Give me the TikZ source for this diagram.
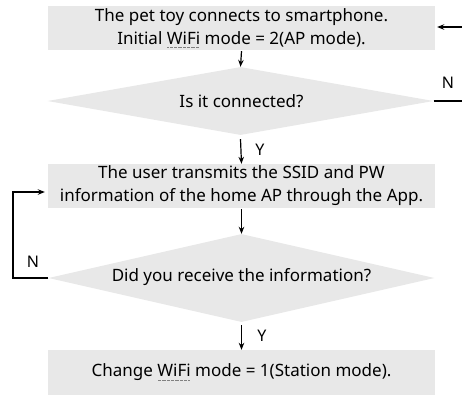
\documentclass[tikz,border=0pt]{standalone}
\usepackage{fontspec}
\setmainfont{Noto Sans}
\usepackage{xcolor}
\usetikzlibrary{shapes.geometric,arrows.meta}
\newcommand{\wfsq}[1]{\leavevmode\setbox0\hbox{#1}\rlap{\raisebox{-3.5pt}{\color{gray}\hbox to \wd0{\leaders\hbox to 1.3pt{\hss\rule{0.65pt}{0.65pt}\hss}\hfill}}}\box0\relax}
\definecolor{boxgray}{HTML}{E8E8E8}
\tikzset{
  procbox/.style={fill=boxgray,draw=none,minimum width=387pt,minimum height=44pt,align=center,inner sep=0pt,font=\fontsize{17}{23}\selectfont},
  decbox/.style={diamond,fill=boxgray,draw=none,aspect=5.6,minimum width=386pt,minimum height=68pt,inner sep=0pt},
  dtext/.style={font=\fontsize{17}{23}\selectfont,inner sep=0pt},
  conn/.style={line width=1.2pt,-{Stealth[length=7pt,width=5.5pt]}},
  lbl/.style={font=\fontsize{16}{18}\selectfont,inner sep=0pt}
}
\begin{document}
\begin{tikzpicture}[x=1pt,y=-1pt]
\useasboundingbox (0,0) rectangle (462,397);
\node[procbox] (b1) at (241.5,28) {The pet toy connects to smartphone.\\Initial \wfsq{WiFi} mode = 2(AP mode).};
\node[decbox] (d1) at (240.5,101) {};
\node[dtext] (t1) at (241.5,101) {Is it connected?};
\node[procbox] (b2) at (241.5,186) {The user transmits the SSID and PW\\information of the home AP through the App.};
\node[decbox,minimum height=88pt] (d2) at (241.5,278) {};
\node[dtext] (t2) at (241.5,277) {Did you receive the information?};
\node[procbox,minimum height=45pt] (b3) at (241.5,372.5) {Change \wfsq{WiFi} mode = 1(Station mode).};
\coordinate (r1) at (475,101);
\coordinate (r2) at (475,27);
\coordinate (l1) at (13,278);
\coordinate (l2) at (13,192);
\draw[conn] (b1.south) ++(0,1) -- (d1.north);
\draw[conn] (d1.south) ++(0,4) -- (b2.north);
\draw[conn] (b2.south) ++(0,1) -- (d2.north);
\draw[conn] (d2.south) ++(0,3) -- (b3.north);
\draw[conn] (d1.east) -- (r1) -- (r2) -- ([xshift=2pt]b1.east|-r2);
\draw[conn] (d2.west) -- (l1) -- (l2) -- ([xshift=-3pt]b2.west|-l2);
\node[lbl] (y1) at (260,150) {Y};
\node[lbl] (y2) at (262,336) {Y};
\node[lbl] (n1) at (448,83) {N};
\node[lbl] (n2) at (33,262) {N};
\end{tikzpicture}
\end{document}
